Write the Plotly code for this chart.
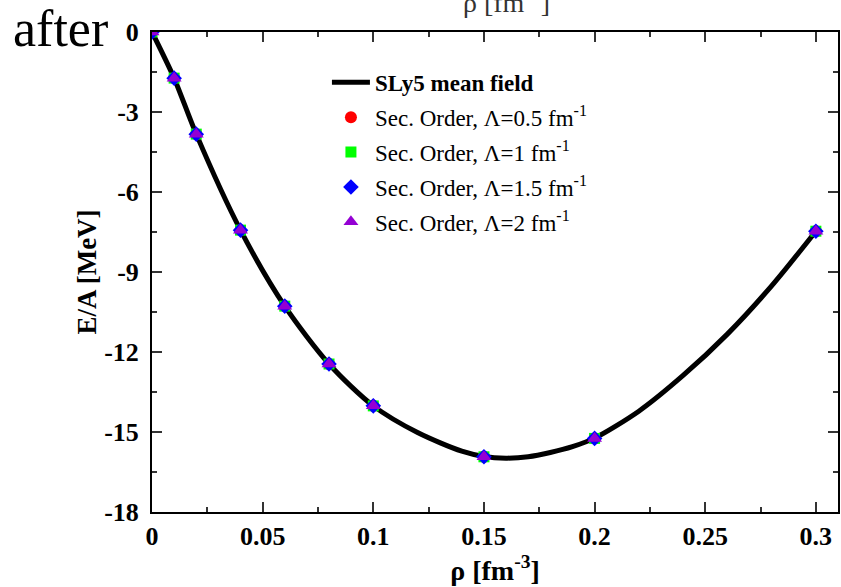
import plotly.graph_objects as go

# Density grid of the computed points [fm^-3] and energy per particle [MeV]
rho_pts = [0.0, 0.01, 0.02, 0.04, 0.06, 0.08, 0.10, 0.15, 0.20, 0.30]
ea_lam05 = [0.0, -1.73, -3.83, -7.43, -10.28, -12.45, -14.02, -15.93, -15.24, -7.47]
ea_lam1 = [0.0, -1.73, -3.83, -7.43, -10.28, -12.45, -14.02, -15.93, -15.24, -7.47]
ea_lam15 = [0.0, -1.73, -3.83, -7.43, -10.28, -12.45, -14.02, -15.93, -15.24, -7.47]
ea_lam2 = [0.0, -1.73, -3.83, -7.43, -10.28, -12.45, -14.02, -15.93, -15.24, -7.47]

# SLy5 mean-field curve
rho_mf = [0.0, 0.01, 0.02, 0.04, 0.06, 0.08, 0.10, 0.12, 0.14, 0.15, 0.16, 0.17,
          0.18, 0.19, 0.20, 0.22, 0.24, 0.26, 0.28, 0.30]
ea_mf = [0.0, -1.73, -3.83, -7.43, -10.28, -12.45, -14.02, -15.02, -15.72, -15.92,
         -15.98, -15.93, -15.77, -15.55, -15.23, -14.22, -12.88, -11.33, -9.52, -7.47]

x_ticks = [0, 0.05, 0.1, 0.15, 0.2, 0.25, 0.3]
x_tick_text = ["0", "0.05", "0.1", "0.15", "0.2", "0.25", "0.3"]
y_ticks = [0, -3, -6, -9, -12, -15, -18]
y_tick_text = ["0", "-3", "-6", "-9", "-12", "-15", "-18"]

FONT = "Liberation Serif"

fig = go.Figure()
fig.add_trace(go.Scatter(
    x=rho_mf, y=ea_mf, mode="lines", line=dict(color="black", width=5),
    line_shape="spline", line_smoothing=0.8,
    name="<b>SLy5 mean field</b>", legendgroup="a"))

series = [
    (ea_lam05, "Sec. Order, \u039b=0.5 fm<sup>-1</sup>", "circle", "#ff0000", 12, "b"),
    (ea_lam1, "Sec. Order, \u039b=1 fm<sup>-1</sup>", "square", "#00ff00", 11, "c"),
    (ea_lam15, "Sec. Order, \u039b=1.5 fm<sup>-1</sup>", "diamond", "#0000ff", 12, "d"),
    (ea_lam2, "Sec. Order, \u039b=2 fm<sup>-1</sup>", "triangle-up", "#9400d3", 13, "e"),
]
for vals, name, sym, col, size, grp in series:
    fig.add_trace(go.Scatter(
        x=rho_pts, y=vals, mode="markers", name=name, legendgroup=grp,
        marker=dict(symbol=sym, color=col, size=size, line=dict(width=0))))

axis_common = dict(
    showline=True, linecolor="black", linewidth=2, mirror="allticks",
    ticks="inside", ticklen=10, tickwidth=1.5, tickcolor="#333",
    showgrid=False, zeroline=False,
    tickfont=dict(family=FONT, size=26, color="black", weight="bold"),
)

fig.update_xaxes(
    range=[0, 0.31], tickvals=x_ticks, ticktext=x_tick_text,
    minor=dict(dtick=0.025, ticklen=5, tickwidth=1.5, tickcolor="#333", ticks="inside"),
    title=dict(text="\u03c1 [fm<sup>-3</sup>]",
               font=dict(family=FONT, size=28, color="black", weight="bold"),
               standoff=2),
    **axis_common)
fig.update_yaxes(
    range=[-18, 0], tickvals=y_ticks, ticktext=y_tick_text, ticklabelstandoff=6,
    minor=dict(dtick=1.5, ticklen=5, tickwidth=1.5, tickcolor="#333", ticks="inside"),
    title=dict(text="E/A [MeV]",
               font=dict(family=FONT, size=27, color="black", weight="bold"),
               standoff=0),
    **axis_common)

fig.add_annotation(
    text="after", xref="paper", yref="paper", x=-0.205, y=1.008,
    xanchor="left", yanchor="middle", showarrow=False,
    font=dict(family=FONT, size=52, color="black"))
fig.add_annotation(
    text="\u03c1 [fm<sup>-3</sup>]", xref="paper", yref="paper", x=0.517, y=1.024,
    xanchor="center", yanchor="bottom", showarrow=False,
    font=dict(family=FONT, size=28, color="#333"))

fig.update_layout(
    width=841, height=587, autosize=False,
    margin=dict(l=152, r=1, t=32, b=75),
    plot_bgcolor="white", paper_bgcolor="white",
    legend=dict(x=0.255, y=0.94, xanchor="left", yanchor="top", itemwidth=38,
                bgcolor="rgba(0,0,0,0)", borderwidth=0, tracegroupgap=2,
                font=dict(family=FONT, size=23, color="black")),
)

fig.write_html("out.html")
